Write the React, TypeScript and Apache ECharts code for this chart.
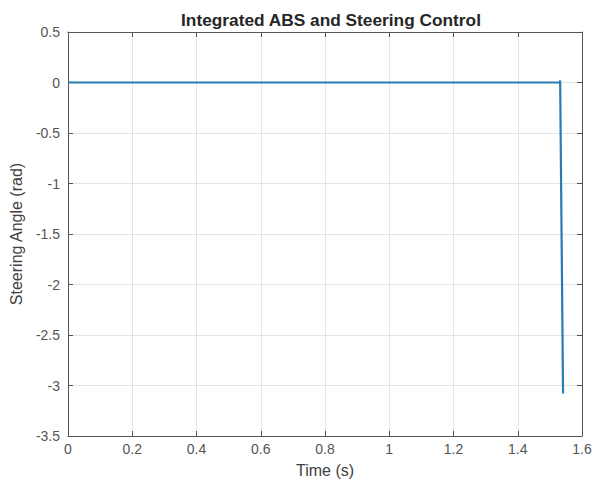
import React, { useEffect, useRef } from "react";
import * as echarts from "echarts";

const timeS = [0, 0.4, 0.8, 1.2, 1.53, 1.532, 1.541];
const steeringRad = [0, 0, 0, 0, 0, 0.02, -3.08];
const title = "Integrated ABS and Steering Control";
const xName = "Time (s)";
const yName = "Steering Angle (rad)";

export default function App() {
  const ref = useRef<HTMLDivElement>(null);
  useEffect(() => {
    const chart = echarts.init(ref.current!, null, { renderer: "svg" });
    const font = "'Liberation Sans', Arial, sans-serif";
    const lineC = "#555555";
    const grid = "#e4e4e4";
    const data = timeS.map((t, i) => [t, steeringRad[i]]);
    const tick = { show: true, inside: true, length: 5, lineStyle: { color: lineC } };
    const aLine = { show: true, onZero: false, lineStyle: { color: lineC, width: 1 } };
    chart.setOption({
      animation: false,
      backgroundColor: "#ffffff",
      title: {
        text: title,
        left: 326,
        textAlign: "center",
        top: 6,
        textStyle: { fontFamily: font, fontSize: 17.3, fontWeight: "bold", color: "#262626" },
      },
      grid: { left: 68, right: 13, top: 32, bottom: 50 },
      xAxis: [
        {
          type: "value",
          min: 0,
          max: 1.6,
          interval: 0.2,
          name: xName,
          nameLocation: "middle",
          nameGap: 26,
          nameTextStyle: { fontFamily: font, fontSize: 16, color: "#404040" },
          axisLine: aLine,
          axisTick: tick,
          axisLabel: {
            fontFamily: font,
            fontSize: 14,
            color: "#555",
            margin: 6,
            formatter: (v: number) => String(Math.round(v * 10) / 10),
          },
          splitLine: { show: true, lineStyle: { color: grid, width: 1 } },
        },
        {
          type: "value",
          position: "top",
          min: 0,
          max: 1.6,
          interval: 0.2,
          axisLine: aLine,
          axisTick: tick,
          axisLabel: { show: false },
          splitLine: { show: false },
        },
      ],
      yAxis: [
        {
          type: "value",
          min: -3.5,
          max: 0.5,
          interval: 0.5,
          name: yName,
          nameLocation: "middle",
          nameGap: 42,
          nameTextStyle: { fontFamily: font, fontSize: 16, color: "#404040" },
          axisLine: aLine,
          axisTick: tick,
          axisLabel: { fontFamily: font, fontSize: 14, color: "#555", margin: 8 },
          splitLine: { show: true, lineStyle: { color: grid, width: 1 } },
        },
        {
          type: "value",
          position: "right",
          min: -3.5,
          max: 0.5,
          interval: 0.5,
          axisLine: aLine,
          axisTick: tick,
          axisLabel: { show: false },
          splitLine: { show: false },
        },
      ],
      series: [
        {
          type: "line",
          data,
          showSymbol: false,
          symbol: "none",
          lineStyle: { color: "#2b7bb3", width: 2.2 },
          xAxisIndex: 0,
          yAxisIndex: 0,
        },
      ],
    });
    return () => chart.dispose();
  }, []);
  return <div ref={ref} style={{ width: 595, height: 486, position: "absolute", left: 0, top: 0 }} />;
}
